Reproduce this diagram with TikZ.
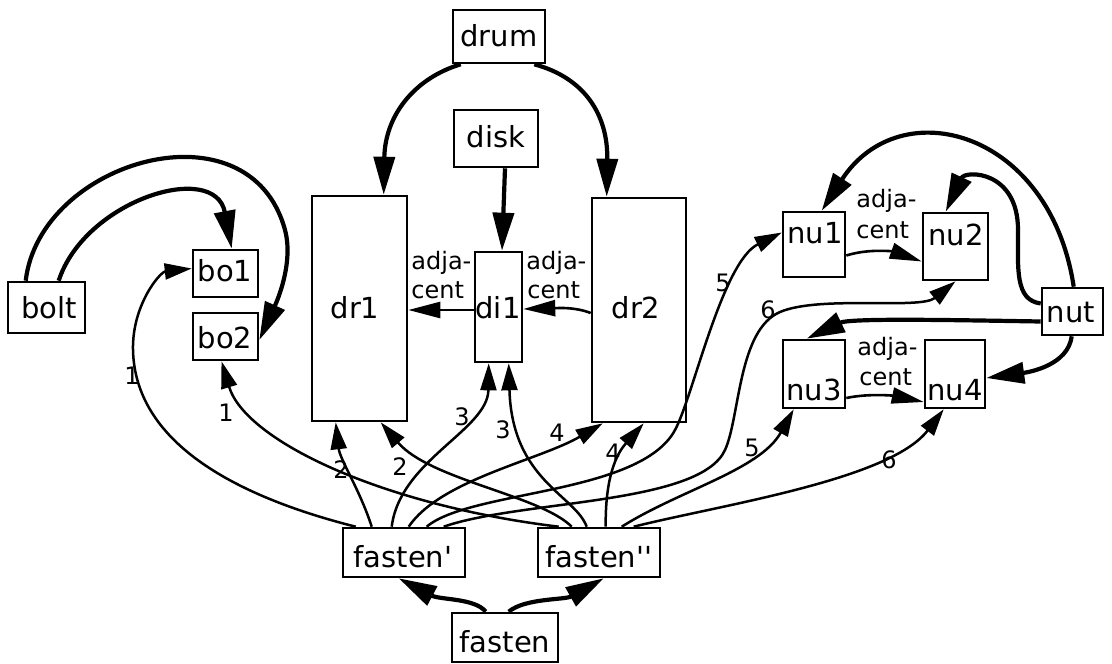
\documentclass[tikz,border=0pt]{standalone}
\usepackage{fontspec}
\setmainfont{DejaVu Sans}
\usetikzlibrary{arrows.meta,calc}
\begin{document}
\begin{tikzpicture}[x=0.5pt,y=-0.5pt,
  box/.style={draw,line width=1.3pt,inner sep=0pt,minimum width=#1},
  txt/.style={inner sep=0pt,anchor=base,font=\fontsize{14.5}{17}\selectfont},
  adj/.style={inner sep=0pt,anchor=base west,font=\fontsize{12}{14}\selectfont},
  num/.style={inner sep=0pt,font=\fontsize{12}{14}\selectfont},
  heavy/.style={line width=2.1pt,-{Triangle[length=19pt,width=10.5pt]}},
  adjarr/.style={line width=1.3pt,-{Triangle[length=16pt,width=8pt]}},
  role/.style={line width=1.25pt,-{Triangle[length=13.5pt,width=8pt]}}
]
\useasboundingbox (0,0) rectangle (1112,663);
% boxes
\node[box=46pt,minimum height=26.5pt] (drum) at (499,36.5) {};
\node[box=42pt,minimum height=28.5pt] (disk) at (496,138.5) {};
\node[box=47.5pt,minimum height=112.5pt] (dr1) at (359.5,308.5) {};
\node[box=23.5pt,minimum height=55pt] (di1) at (498.5,307) {};
\node[box=47pt,minimum height=112pt] (dr2) at (639,310) {};
\node[box=38.5pt,minimum height=25.5pt] (bolt) at (46.5,307.5) {};
\node[box=32.5pt,minimum height=23.5pt] (bo1) at (225.5,273.5) {};
\node[box=32.5pt,minimum height=23.5pt] (bo2) at (225.5,336.5) {};
\node[box=31pt,minimum height=32.5pt] (nu1) at (814,244.5) {};
\node[box=32.5pt,minimum height=33.5pt] (nu2) at (955.5,246.5) {};
\node[box=30.5pt,minimum height=23.5pt] (nut) at (1072.5,311.5) {};
\node[box=31pt,minimum height=34pt] (nu3) at (814,374) {};
\node[box=30pt,minimum height=34pt] (nu4) at (955,374) {};
\node[box=61pt,minimum height=24.5pt] (fp) at (404,552.5) {};
\node[box=61pt,minimum height=24.5pt] (fpp) at (599,552.5) {};
\node[box=53pt,minimum height=24.5pt] (fasten) at (505,637.5) {};
% box texts
\node[txt] (drumt) at (499,47) {drum};
\node[txt] (diskt) at (496,148) {disk};
\node[txt] (dr1t) at (355,318) {dr1};
\node[txt] (di1t) at (498,318) {di1};
\node[txt] (dr2t) at (636,318) {dr2};
\node[txt] (boltt) at (49,318) {bolt};
\node[txt] (bo1t) at (225,281) {bo1};
\node[txt] (bo2t) at (225,348) {bo2};
\node[txt] (nu1t) at (815,243) {nu1};
\node[txt] (nu2t) at (956,245) {nu2};
\node[txt] (nutt) at (1071,322) {nut};
\node[txt] (nu3t) at (814,400) {nu3};
\node[txt] (nu4t) at (955,400) {nu4};
\node[txt] (fpt) at (403,567) {fasten\textquotesingle};
\node[txt] (fppt) at (599,567) {fasten\textquotesingle\textquotesingle};
\node[txt] (fastent) at (505,652) {fasten};
% adjacent labels
\node[adj] (al1a) at (411,269) {adja-};
\node[adj] (al1b) at (411,298) {cent};
\node[adj] (al2a) at (526,269) {adja-};
\node[adj] (al2b) at (527,298) {cent};
\node[adj] (al3a) at (856,207) {adja-};
\node[adj] (al3b) at (856,238) {cent};
\node[adj] (al4a) at (857,355) {adja-};
\node[adj] (al4b) at (859,385) {cent};
% role numbers
\node[num] (l1a) at (132,376) {1};
\node[num] (l1b) at (226,413) {1};
\node[num] (l2a) at (341,470) {2};
\node[num] (l2b) at (400,467) {2};
\node[num] (l3a) at (462,417) {3};
\node[num] (l3b) at (503,430) {3};
\node[num] (l4a) at (557,433) {4};
\node[num] (l4b) at (613,453) {4};
\node[num] (l5a) at (723,283) {5};
\node[num] (l6a) at (768,310) {6};
\node[num] (l5b) at (752,448) {5};
\node[num] (l6b) at (889,460) {6};
% heavy edges
\draw[heavy] ($(drum.south west)+(9,0)$) .. controls (415,78) and (385,115) .. ($(dr1.north west)+(73,0)$);
\draw[heavy] ($(drum.south east)+(-12,0)$) .. controls (585,78) and (608,115) .. ($(dr2.north west)+(16,0)$);
\draw[heavy] ($(disk.south)+(9,0)$) -- ($(di1.north)+(3.5,0)$);
\draw[heavy] ($(bolt.north west)+(52,0)$) .. controls (85,200) and (215,160) .. ($(bo1.north west)+(40,0)$);
\draw[heavy] ($(bolt.north west)+(19,0)$) .. controls (40,160) and (250,100) .. (285,230) .. controls (295,267) and (272,312) .. ($(bo2.east)+(0,3.5)$);
\draw[heavy] ($(nut.north west)+(33,0)$) .. controls (1050,130) and (900,90) .. ($(nu1.north west)+(40,0)$);
\draw[heavy] ($(nut.west)+(0,-8)$) .. controls (1015,300) and (1018,270) .. (1018,230) .. controls (1018,170) and (965,170) .. ($(nu2.north west)+(24,0)$);
\draw[heavy] ($(nut.west)+(0,10)$) .. controls (950,320) and (850,318) .. ($(nu3.north west)+(25,0)$);
\draw[heavy] ($(nut.south west)+(31,0)$) .. controls (1068,365) and (1030,372) .. ($(nu4.east)+(0,4)$);
\draw[heavy] ($(fasten.north west)+(35,0)$) .. controls (475,598) and (440,600) .. ($(fp.south west)+(57,0)$);
\draw[heavy] ($(fasten.north west)+(58,0)$) .. controls (525,598) and (565,600) .. ($(fpp.south west)+(67,0)$);
% adjacency edges
\draw[adjarr] ($(di1.west)+(0,3)$) -- ($(dr1.east)+(0,1.5)$);
\draw[adjarr] ($(dr2.west)+(0,3)$) .. controls (575,307) and (560,308) .. ($(di1.east)+(0,2)$);
\draw[adjarr] ($(nu1.east)+(0,11)$) .. controls (870,248) and (895,252) .. ($(nu2.west)+(0,15)$);
\draw[adjarr] ($(nu3.east)+(0,24)$) .. controls (870,393) and (895,396) .. ($(nu4.west)+(0,28)$);
% role edges from fasten'
\draw[role] ($(fp.north west)+(14,0)$) .. controls (230,495) and (135,440) .. (133,350) .. controls (132,305) and (160,272) .. ($(bo1.west)+(0,-5)$);
\draw[role] ($(fp.north west)+(30,0)$) .. controls (360,490) and (340,460) .. ($(dr1.south west)+(25,0)$);
\draw[role] ($(fp.north west)+(50,0)$) .. controls (400,460) and (488,430) .. ($(di1.south west)+(15,0)$);
\draw[role] ($(fp.north west)+(67,0)$) .. controls (440,480) and (540,460) .. ($(dr2.south west)+(12,0)$);
\draw[role] ($(fp.north west)+(85,0)$) .. controls (470,490) and (640,495) .. (675,430) .. controls (693,397) and (722,262) .. ($(nu1.west)+(0,-12)$);
\draw[role] ($(fp.north west)+(102,0)$) .. controls (520,500) and (700,505) .. (725,450) .. controls (740,417) and (738,330) .. (780,312) .. controls (820,295) and (920,310) .. (nu2.south);
% role edges from fasten''
\draw[role] ($(fpp.north west)+(22,0)$) .. controls (380,505) and (245,440) .. ($(bo2.south)+(-4,0)$);
\draw[role] ($(fpp.north west)+(35,0)$) .. controls (540,495) and (430,480) .. ($(dr1.south west)+(70,0)$);
\draw[role] ($(fpp.north west)+(50,0)$) .. controls (575,495) and (512,480) .. ($(di1.south west)+(35,0)$);
\draw[role] ($(fpp.north west)+(69,0)$) .. controls (605,470) and (620,450) .. ($(dr2.south west)+(53,0)$);
\draw[role] ($(fpp.north west)+(85,0)$) .. controls (680,490) and (760,470) .. ($(nu3.south west)+(12,0)$);
\draw[role] ($(fpp.north west)+(97,0)$) .. controls (720,505) and (890,480) .. ($(nu4.south west)+(20,0)$);
\end{tikzpicture}
\end{document}
